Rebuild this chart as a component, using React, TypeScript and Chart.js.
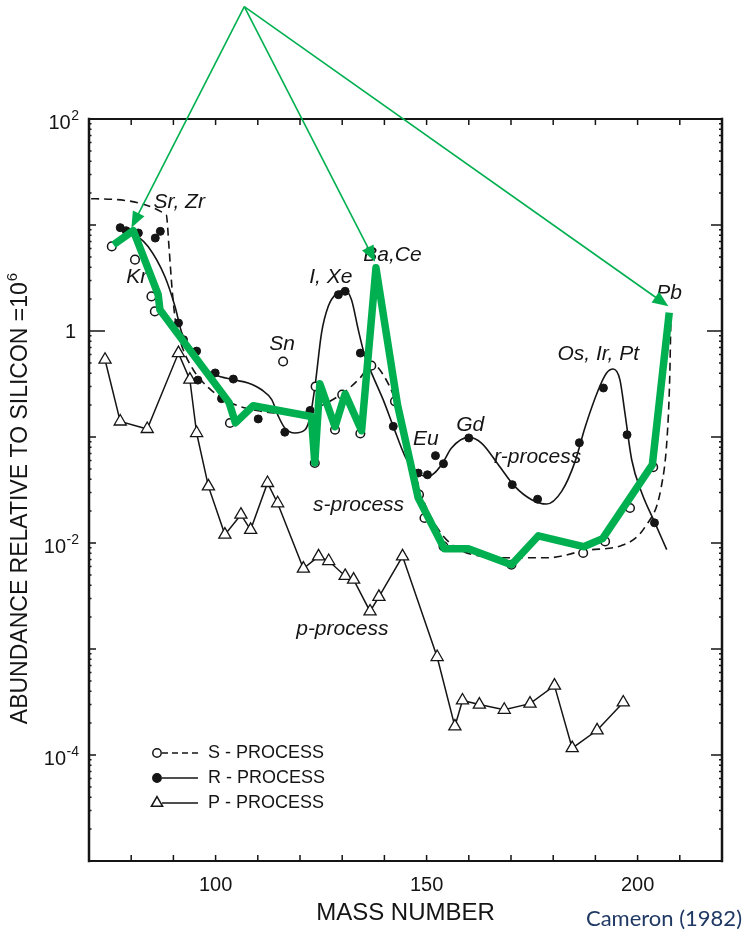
import React, { useEffect, useRef } from "react";
import { Chart, registerables } from "chart.js";

Chart.register(...registerables);

const FONT = '"Liberation Sans", Arial, Helvetica, sans-serif';
const INK = "#151515";
const GREEN = "#00B050";

// ---- axes ----
const xTickValues = [80, 90, 100, 110, 120, 130, 140, 150, 160, 170, 180, 190, 200, 210];
const xLabelValues = [100, 150, 200];
const yDecades = [1e-5, 1e-4, 1e-3, 1e-2, 1e-1, 1, 10, 100];
const yLabelExponents = [2, 0, -2, -4];
const yLabelSup = ["2", "", "-2", "-4"];
const yTitleMain = "ABUNDANCE RELATIVE TO SILICON =10";
const yTitleSup = "6";
const xTitle = "MASS NUMBER";

// ---- p-process (open triangles, solid line) ----
const pMass = [73.8, 77.4, 83.8, 91.2, 93.9, 95.5, 98.3, 102.2, 106.0, 108.3, 112.3, 114.7, 120.8, 124.4, 126.8, 130.7, 132.7, 136.6, 138.7, 144.3, 152.5, 156.7, 158.5, 162.5, 168.4, 174.5, 180.3, 184.5, 190.4, 196.6];
const pAbund = [0.536, 0.14, 0.119, 0.619, 0.348, 0.109, 0.0342, 0.012, 0.0185, 0.0133, 0.0368, 0.0237, 0.00574, 0.00748, 0.00676, 0.00489, 0.00451, 0.00226, 0.0031, 0.00748, 0.00084, 0.000186, 0.000327, 0.000299, 0.000267, 0.000305, 0.000451, 0.000116, 0.000171, 0.000313];

// ---- s-process (open circles) ----
const sMass = [75.4, 80.9, 84.8, 85.6, 103.4, 116.0, 123.7, 123.5, 128.3, 130.0, 134.3, 136.9, 142.5, 148.2, 149.5, 154.0, 170.1, 187.1, 192.3, 198.2, 203.7];
const sAbund = [6.28, 4.71, 2.12, 1.53, 0.1355, 0.516, 0.3, 0.0569, 0.117, 0.251, 0.108, 0.471, 0.217, 0.0286, 0.0172, 0.0093, 0.00624, 0.00805, 0.01035, 0.0214, 0.0519];

// ---- r-process (filled dots) ----
const rMass = [77.4, 78.8, 81.7, 85.7, 86.9, 91.2, 92.4, 95.5, 95.8, 99.9, 101.4, 104.2, 110.1, 116.4, 122.4, 129.1, 130.7, 134.3, 142.1, 148.0, 150.2, 152.1, 154.0, 160.0, 170.3, 176.3, 186.2, 191.9, 197.5, 204.0];
const rAbund = [9.44, 8.83, 8.41, 7.53, 8.71, 1.19, 0.828, 0.646, 0.344, 0.402, 0.23, 0.352, 0.148, 0.111, 0.178, 2.2, 2.37, 0.619, 0.126, 0.0457, 0.044, 0.0667, 0.056, 0.098, 0.0355, 0.0259, 0.0883, 0.29, 0.105, 0.0155];

// ---- s-process curve (dashed) ----
const sCurveMass = [70.5, 88.3, 89.0, 89.7, 90.45, 91.9, 94.7, 98.3, 103.0, 110.1, 118.4, 123.9, 130.3, 134.3, 137.1, 139.7, 142.5, 145.7, 149.2, 152.8, 156.3, 162.2, 170.1, 178.8, 188.3, 196.1, 201.8, 205.6, 207.0, 207.6, 207.9];
const sCurveAbund = [17.7, 12.5, 5.85, 2.45, 1.28, 0.743, 0.431, 0.292, 0.215, 0.177, 0.166, 0.189, 0.262, 0.363, 0.492, 0.387, 0.225, 0.0759, 0.0256, 0.0134, 0.00944, 0.00759, 0.00726, 0.00726, 0.00859, 0.00944, 0.01426, 0.0337, 0.1, 0.348, 1.4];

// ---- r-process curve (solid) ----
const rCurveMass = [80.5, 84.05, 88.0, 90.4, 91.9, 94.3, 97.1, 99.9, 104.2, 107.7, 110.9, 113.3, 114.9, 116.4, 118.8, 121.2, 122.4, 123.55, 125.1, 126.7, 128.7, 130.7, 132.2, 133.8, 135.4, 137.3, 139.7, 142.1, 144.9, 147.25, 150.4, 153.55, 155.9, 159.9, 163.0, 167.0, 170.9, 174.9, 178.4, 182.0, 185.2, 187.5, 190.7, 192.65, 194.2, 195.8, 197.0, 198.6, 201.0, 204.1, 206.9];
const rCurveAbund = [8.45, 6.24, 3.25, 1.69, 0.985, 0.624, 0.46, 0.386, 0.347, 0.323, 0.279, 0.225, 0.156, 0.1216, 0.109, 0.117, 0.156, 0.3, 0.957, 1.71, 2.28, 2.42, 1.97, 1.03, 0.575, 0.373, 0.225, 0.126, 0.0656, 0.0473, 0.0425, 0.0548, 0.0787, 0.0991, 0.0877, 0.0548, 0.0342, 0.0256, 0.0233, 0.0307, 0.0589, 0.1216, 0.279, 0.402, 0.438, 0.348, 0.168, 0.061, 0.0296, 0.0155, 0.00865];

// ---- green overlay line ----
const greenMass = [75.8, 80.5, 86.4, 86.8, 103.2, 104.7, 108.9, 122.7, 123.5, 124.7, 128.3, 130.7, 134.6, 138.0, 143.1, 148.0, 154.2, 159.9, 170.1, 176.5, 187.2, 191.7, 203.5, 207.5];
const greenAbund = [6.52, 8.84, 2.2, 1.59, 0.211, 0.136, 0.197, 0.156, 0.0573, 0.318, 0.125, 0.256, 0.1146, 3.95, 0.202, 0.0267, 0.00883, 0.00883, 0.00624, 0.0117, 0.00923, 0.011, 0.0548, 1.49];

// ---- green arrows ----
const arrowOriginMass = 106.8;
const arrowOriginAbund = 1150;
const arrowTipMass = [80.05, 137.8, 207.3];
const arrowTipAbund = [9.44, 4.51, 1.71];

// ---- in-plot labels ----
const noteTexts = ["Sr, Zr", "Kr", "Sn", "I, Xe", "Ba,Ce", "Pb", "Os, Ir, Pt", "Eu", "Gd", "r-process", "s-process", "p-process"];
const noteMass = [85.3, 78.8, 112.7, 122.2, 135.0, 204.4, 181.0, 146.8, 157.0, 166.0, 123.1, 119.1];
const noteAbund = [16.6, 3.25, 0.759, 3.25, 5.25, 2.3, 0.61, 0.0944, 0.1306, 0.0652, 0.023, 0.00153];

// ---- legend ----
const legendLabels = ["S - PROCESS", "R - PROCESS", "P - PROCESS"];
const legendMarkers = ["open", "filled", "triangle"];
const legendDashed = [true, false, false];

const creditText = "Cameron (1982)";

const pts = (xs: number[], ys: number[]) => xs.map((v, i) => ({ x: v, y: ys[i] }));

function drawArrow(ctx: CanvasRenderingContext2D, x0: number, y0: number, x1: number, y1: number) {
  const ang = Math.atan2(y1 - y0, x1 - x0);
  const L = 16;
  const W = 6.5;
  const c = Math.cos(ang);
  const s = Math.sin(ang);
  ctx.beginPath();
  ctx.moveTo(x0, y0);
  ctx.lineTo(x1 - c * (L - 2), y1 - s * (L - 2));
  ctx.stroke();
  ctx.beginPath();
  ctx.moveTo(x1, y1);
  ctx.lineTo(x1 - c * L + s * W, y1 - s * L - c * W);
  ctx.lineTo(x1 - c * L - s * W, y1 - s * L + c * W);
  ctx.closePath();
  ctx.fill();
}

const decorPlugin = {
  id: "decor",
  beforeDatasetsDraw(chart: any) {
    const { ctx, scales } = chart;
    const x = scales.x;
    const y = scales.y;
    ctx.save();
    ctx.fillStyle = INK;
    ctx.font = `italic 21px ${FONT}`;
    ctx.textBaseline = "middle";
    ctx.textAlign = "left";
    noteTexts.forEach((t, i) => {
      ctx.fillText(t, x.getPixelForValue(noteMass[i]), y.getPixelForValue(noteAbund[i]));
    });
    ctx.restore();
  },
  afterDraw(chart: any) {
    const { ctx, chartArea, scales } = chart;
    const x = scales.x;
    const y = scales.y;
    const { left, right, top, bottom } = chartArea;
    ctx.save();
    // frame
    ctx.strokeStyle = INK;
    ctx.lineCap = "square";
    ctx.lineWidth = 2.5;
    ctx.beginPath();
    ctx.moveTo(left, top);
    ctx.lineTo(left, bottom);
    ctx.moveTo(right, top);
    ctx.lineTo(right, bottom);
    ctx.stroke();
    ctx.lineWidth = 2;
    ctx.beginPath();
    ctx.moveTo(left, top);
    ctx.lineTo(right, top);
    ctx.moveTo(left, bottom);
    ctx.lineTo(right, bottom);
    ctx.stroke();
    // x ticks (inward, bottom and top)
    ctx.lineWidth = 1.5;
    ctx.lineCap = "butt";
    ctx.beginPath();
    xTickValues.forEach((v) => {
      const px = x.getPixelForValue(v);
      ctx.moveTo(px, bottom);
      ctx.lineTo(px, bottom - 6);
      ctx.moveTo(px, top);
      ctx.lineTo(px, top + 6);
    });
    // y ticks
    yDecades.forEach((v) => {
      const py = y.getPixelForValue(v);
      if (py <= top + 1 || py >= bottom - 1) return;
      const isOne = Math.abs(v - 1) < 1e-9;
      ctx.moveTo(left, py);
      ctx.lineTo(left + (isOne ? 16 : 7), py);
      ctx.moveTo(right, py);
      ctx.lineTo(right - (isOne ? 15 : 11), py);
    });
    yDecades.forEach((v) => {
      for (let m = 2; m <= 9; m++) {
        const pm = y.getPixelForValue(v * m);
        if (pm <= top + 1) continue;
        ctx.moveTo(right, pm);
        ctx.lineTo(right - 3, pm);
        ctx.moveTo(left, pm);
        ctx.lineTo(left + 2.5, pm);
      }
    });
    ctx.stroke();

    // y tick labels: 10 with raised exponent
    ctx.fillStyle = INK;
    ctx.textBaseline = "alphabetic";
    const labRight = left - 10;
    yLabelExponents.forEach((e, i) => {
      const py = y.getPixelForValue(Math.pow(10, e));
      const sup = yLabelSup[i];
      if (!sup) {
        ctx.font = `20px ${FONT}`;
        ctx.textAlign = "right";
        ctx.fillText("1", labRight - 3, py + 7);
        return;
      }
      ctx.font = `14px ${FONT}`;
      const ws = ctx.measureText(sup).width;
      ctx.textAlign = "left";
      ctx.fillText(sup, labRight - ws, py + 1);
      ctx.font = `20px ${FONT}`;
      ctx.textAlign = "right";
      ctx.fillText("10", labRight - ws - 0.5, py + 10);
    });

    // y title (rotated)
    ctx.save();
    ctx.translate(18, (top + bottom) / 2 + 9);
    ctx.rotate(-Math.PI / 2);
    ctx.font = `23px ${FONT}`;
    const wm = ctx.measureText(yTitleMain).width;
    ctx.font = `15px ${FONT}`;
    const wsup = ctx.measureText(yTitleSup).width;
    const start = -(wm + wsup) / 2;
    ctx.textAlign = "left";
    ctx.font = `23px ${FONT}`;
    ctx.fillText(yTitleMain, start, 8.5);
    ctx.font = `15px ${FONT}`;
    ctx.fillText(yTitleSup, start + wm + 1, -1);
    ctx.restore();

    // legend
    const mx = left + 68;
    legendLabels.forEach((lab, i) => {
      const ry = bottom - 108 + i * 25;
      ctx.strokeStyle = INK;
      ctx.fillStyle = INK;
      ctx.lineWidth = 1.5;
      ctx.setLineDash(legendDashed[i] ? [6, 4] : []);
      ctx.beginPath();
      ctx.moveTo(mx + 5, ry);
      ctx.lineTo(mx + 41, ry);
      ctx.stroke();
      ctx.setLineDash([]);
      const mk = legendMarkers[i];
      if (mk === "triangle") {
        const r = 6.5;
        ctx.beginPath();
        ctx.moveTo(mx, ry - r);
        ctx.lineTo(mx + r * 0.866, ry + r * 0.5);
        ctx.lineTo(mx - r * 0.866, ry + r * 0.5);
        ctx.closePath();
        ctx.fillStyle = "#fff";
        ctx.fill();
        ctx.stroke();
      } else {
        ctx.beginPath();
        ctx.arc(mx, ry, 4.2, 0, Math.PI * 2);
        ctx.fillStyle = mk === "filled" ? INK : "#fff";
        ctx.fill();
        ctx.stroke();
      }
      ctx.fillStyle = INK;
      ctx.font = `18px ${FONT}`;
      ctx.textBaseline = "middle";
      ctx.textAlign = "left";
      ctx.fillText(lab, mx + 51, ry);
    });

    // arrows
    ctx.strokeStyle = GREEN;
    ctx.fillStyle = GREEN;
    ctx.lineWidth = 1.6;
    const ox = x.getPixelForValue(arrowOriginMass);
    const oy = y.getPixelForValue(arrowOriginAbund);
    arrowTipMass.forEach((m, i) => {
      drawArrow(ctx, ox, oy, x.getPixelForValue(m), y.getPixelForValue(arrowTipAbund[i]));
    });

    // credit
    ctx.fillStyle = "#1F3864";
    ctx.font = '22px Lato, "Open Sans", sans-serif';
    ctx.textAlign = "right";
    ctx.textBaseline = "alphabetic";
    ctx.fillText(creditText, chart.width - 9, chart.height - 12);
    ctx.restore();
  },
};

export default function App() {
  const canvasRef = useRef<HTMLCanvasElement | null>(null);

  useEffect(() => {
    const canvas = canvasRef.current;
    if (!canvas) return;
    const chart = new Chart(canvas, {
      type: "line",
      data: {
        datasets: [
          {
            label: "green",
            data: pts(greenMass, greenAbund),
            borderColor: GREEN,
            borderWidth: 7.5,
            pointRadius: 0,
            tension: 0,
            borderJoinStyle: "round",
            borderCapStyle: "butt",
            order: 0,
          },
          {
            label: "R - PROCESS",
            data: pts(rMass, rAbund),
            showLine: false,
            pointStyle: "circle",
            pointRadius: 4,
            pointBackgroundColor: INK,
            pointBorderColor: INK,
            pointBorderWidth: 1,
            order: 1,
          },
          {
            label: "S - PROCESS",
            data: pts(sMass, sAbund),
            showLine: false,
            pointStyle: "circle",
            pointRadius: 4.3,
            pointBackgroundColor: "#fff",
            pointBorderColor: INK,
            pointBorderWidth: 1.5,
            order: 2,
          },
          {
            label: "P - PROCESS",
            data: pts(pMass, pAbund),
            borderColor: INK,
            borderWidth: 1.5,
            tension: 0,
            pointStyle: "triangle",
            pointRadius: 7,
            pointBackgroundColor: "#fff",
            pointBorderColor: INK,
            pointBorderWidth: 1.3,
            order: 3,
          },
          {
            label: "s-curve",
            data: pts(sCurveMass, sCurveAbund),
            borderColor: INK,
            borderWidth: 1.6,
            borderDash: [8, 5],
            pointRadius: 0,
            cubicInterpolationMode: "monotone",
            order: 4,
          },
          {
            label: "r-curve",
            data: pts(rCurveMass, rCurveAbund),
            borderColor: INK,
            borderWidth: 1.6,
            pointRadius: 0,
            cubicInterpolationMode: "monotone",
            order: 5,
          },
        ],
      },
      options: {
        responsive: false,
        animation: false,
        events: [],
        layout: { padding: { top: 119, right: 29, left: 0, bottom: 0 } },
        plugins: { legend: { display: false }, tooltip: { enabled: false } },
        scales: {
          x: {
            type: "linear",
            position: "bottom",
            min: 70,
            max: 220,
            afterBuildTicks: (s: any) => {
              s.ticks = xTickValues.map((v) => ({ value: v }));
            },
            afterFit: (s: any) => {
              s.height = 77;
            },
            grid: { display: false },
            border: { display: false },
            ticks: {
              autoSkip: false,
              maxRotation: 0,
              padding: 4,
              color: INK,
              font: { family: FONT, size: 20 },
              callback: (v: any) => (xLabelValues.includes(Number(v)) ? String(v) : ""),
            },
            title: {
              display: true,
              text: xTitle,
              color: INK,
              font: { family: FONT, size: 24 },
              padding: { top: 0, bottom: 10 },
            },
          },
          y: {
            type: "logarithmic",
            position: "left",
            min: 1e-5,
            max: 100,
            afterBuildTicks: (s: any) => {
              s.ticks = yDecades.map((v) => ({ value: v }));
            },
            afterFit: (s: any) => {
              s.width = 89;
            },
            grid: { display: false },
            border: { display: false },
            ticks: { display: false },
            title: { display: false },
          },
        },
      },
      plugins: [decorPlugin],
    } as any);
    return () => chart.destroy();
  }, []);

  return (
    <div style={{ position: "absolute", left: 0, top: 0, width: 751, height: 938, background: "#fff" }}>
      <canvas ref={canvasRef} width={751} height={938} style={{ display: "block" }} />
    </div>
  );
}
